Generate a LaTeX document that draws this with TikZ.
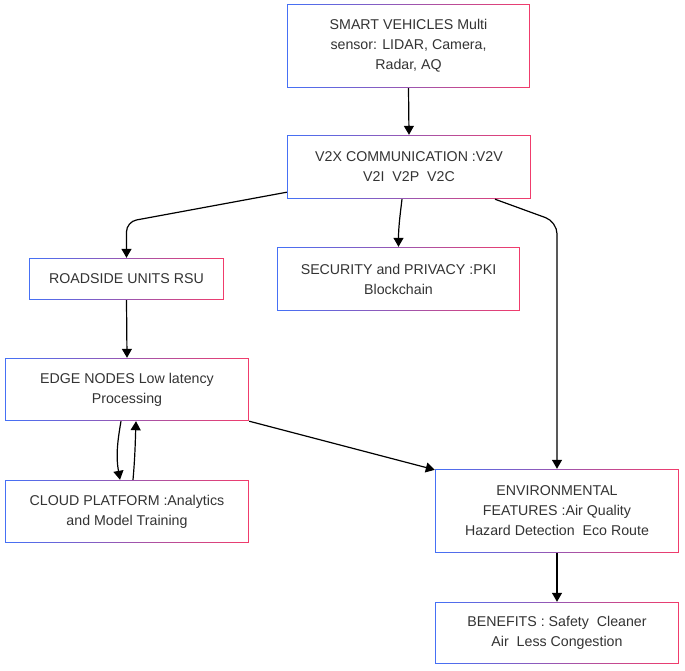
\documentclass[tikz,border=0pt]{standalone}
\usepackage{fontspec}
\setmainfont{Liberation Sans}
\usetikzlibrary{arrows.meta,calc}
\definecolor{bcol}{RGB}{70,112,245}
\definecolor{rcol}{RGB}{240,60,108}
\definecolor{tcol}{RGB}{51,51,51}
\tikzset{
  box/.style={rectangle, inner sep=0pt, fill=white,
    text=tcol, align=center, font=\fontsize{14.2}{20}\selectfont},
  conn/.style={draw=black, line width=1.2pt, -{Triangle[length=9pt,width=10pt]}}
}
\newcommand{\gradborder}[1]{%
  \fill[bcol] (#1.south west) rectangle ([xshift=1.3pt]#1.north west);
  \fill[rcol] ([xshift=-1.3pt]#1.south east) rectangle (#1.north east);
  \foreach \i in {0,...,39}{%
    \pgfmathtruncatemacro{\p}{\i*100/39}%
    \pgfmathsetmacro{\a}{\i/40}%
    \pgfmathsetmacro{\b}{min((\i+1.3)/40,1)}%
    \fill[rcol!\p!bcol] ($(#1.north west)!\a!(#1.north east)$) rectangle ($(#1.north west)!\b!(#1.north east)+(0,-1.3pt)$);
    \fill[rcol!\p!bcol] ($(#1.south west)!\a!(#1.south east)$) rectangle ($(#1.south west)!\b!(#1.south east)+(0,1.3pt)$);
  }%
}
\begin{document}
\begin{tikzpicture}[x=1pt,y=1pt]
\useasboundingbox (0,0) rectangle (685,-670);
\node[box, minimum width=243pt, minimum height=84pt] (n1) at (408.5,-46) {SMART VEHICLES Multi\\sensor: LIDAR, Camera,\\Radar, AQ};
\node[box, minimum width=244pt, minimum height=64pt] (n2) at (409,-167) {V2X COMMUNICATION :V2V\\V2I~ V2P~ V2C};
\node[box, minimum width=195pt, minimum height=42pt] (n3) at (126.5,-279) {ROADSIDE UNITS RSU};
\node[box, minimum width=243pt, minimum height=64pt] (n4) at (398.5,-279) {SECURITY and PRIVACY :PKI\\Blockchain};
\node[box, minimum width=244pt, minimum height=63pt] (n5) at (127,-389.5) {EDGE NODES Low latency\\Processing};
\node[box, minimum width=244pt, minimum height=63pt] (n6) at (127,-511.5) {CLOUD PLATFORM :Analytics\\and Model Training};
\node[box, minimum width=244pt, minimum height=84pt] (n7) at (557,-511) {ENVIRONMENTAL\\FEATURES :Air Quality\\Hazard Detection~ Eco Route};
\node[box, minimum width=244pt, minimum height=62pt] (n8) at (557,-633) {BENEFITS : Safety~ Cleaner\\Air~ Less Congestion};
\foreach \n in {n1,n2,n3,n4,n5,n6,n7,n8}{\gradborder{\n}}

\draw[conn] (n1.south) -- (n2.north);
\draw[conn, rounded corners=10pt] ([yshift=7pt]n2.south west) -- ([yshift=36pt]n3.north) -- (n3.north);
\draw[conn] ([xshift=-7pt]n2.south) to[out=-97,in=90] (n4.north);
\draw[conn, rounded corners=12pt] ([xshift=86pt]n2.south) -- ([yshift=247pt]n7.north) -- (n7.north);
\draw[conn] (n3.south) -- (n5.north);
\draw[conn] ([xshift=-6pt]n5.south) to[out=-100,in=100] ([xshift=-7pt]n6.north);
\draw[conn] ([xshift=6pt]n6.north) to[out=85,in=-92] ([xshift=9pt]n5.south);
\draw[conn] (n5.south east) -- ([yshift=-1pt]n7.north west);
\draw[conn] (n7.south) -- (n8.north);
\end{tikzpicture}
\end{document}
